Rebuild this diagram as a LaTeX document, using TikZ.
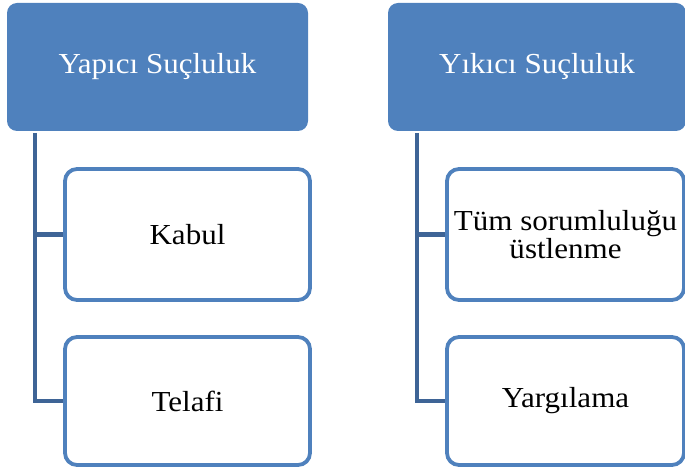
\documentclass[tikz,border=0pt]{standalone}
\usepackage{fontspec}
\setmainfont{Liberation Serif}
\definecolor{hdrblue}{RGB}{79,129,189}
\definecolor{bordblue}{RGB}{79,129,189}
\definecolor{connblue}{RGB}{62,100,150}
\newcommand{\wtxt}[1]{\scalebox{1.07}[1]{#1}}
\tikzset{
  hdr/.style={rectangle, rounded corners=10pt, fill=hdrblue, text=white,
    font=\fontsize{29}{29}\selectfont, inner sep=0pt},
  child/.style={rectangle, rounded corners=12pt, draw=bordblue, line width=3.8pt,
    fill=white, text=black, font=\fontsize{29}{23}\selectfont, align=center, inner sep=0pt},
  conn/.style={draw=connblue, line width=4.5pt}
}
\begin{document}
\begin{tikzpicture}[x=1pt,y=-1pt]
\useasboundingbox (0,0) rectangle (685,470);
\clip (0,0) rectangle (685,470);
% header boxes
\node[hdr, minimum width=301pt, minimum height=128pt] (lt) at (157.5,67) {\wtxt{Yapıcı Suçluluk}};
\node[hdr, minimum width=298pt, minimum height=128pt] (rt) at (537,67) {\wtxt{Yıkıcı Suçluluk}};
% child boxes left
\node[child, minimum width=245pt, minimum height=131pt] (kabul) at (187.5,234.5) {\wtxt{Kabul}};
\node[child, minimum width=245pt, minimum height=128pt] (telafi) at (187.5,401) {\wtxt{Telafi}};
% child boxes right
\node[child, minimum width=237pt, minimum height=131pt] (tum) at (565.5,234.5) {\wtxt{Tüm sorumluluğu}\\\wtxt{üstlenme}};
\node[child, minimum width=237pt, minimum height=128pt] (yarg) at (565.5,401) {\wtxt{Yargılama}};
% connectors
\coordinate (lroot) at (35,133);
\coordinate (rroot) at (417,133);
\draw[conn] (lroot) |- (telafi.west);
\draw[conn] (lroot |- kabul.west) -- (kabul.west);
\draw[conn] (rroot) |- (yarg.west);
\draw[conn] (rroot |- tum.west) -- (tum.west);
\end{tikzpicture}
\end{document}
